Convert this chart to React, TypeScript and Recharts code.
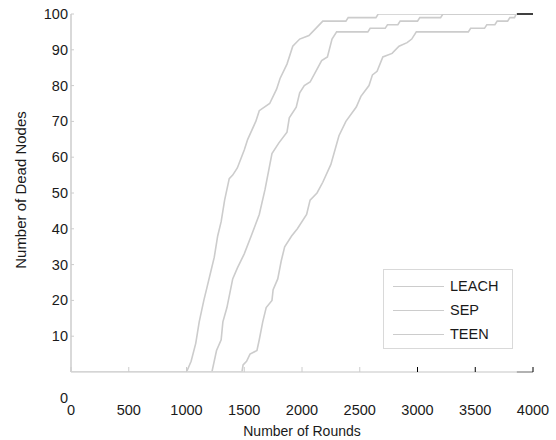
import React from 'react';
import { LineChart, Line, XAxis, YAxis, Legend, ReferenceLine } from 'recharts';

const xTicks = [0, 500, 1000, 1500, 2000, 2500, 3000, 3500, 4000];
const yTicks = [0, 10, 20, 30, 40, 50, 60, 70, 80, 90, 100];

// rounds at which the dead-node count was read, and the count there
const leachRounds = [0, 1000, 1040, 1080, 1110, 1150, 1180, 1210, 1240, 1270, 1300, 1330, 1370, 1400, 1440, 1500, 1530, 1600, 1630, 1720, 1780, 1810, 1870, 1920, 1980, 2060, 2120, 2180, 2380, 2400, 2640, 2660, 3860];
const leachDead = [0, 0, 3, 8, 14, 20, 24, 28, 32, 38, 42, 48, 54, 55, 57, 62, 65, 70, 73, 75, 79, 82, 86, 91, 93, 94, 96, 98, 98, 99, 99, 100, 100];

const sepRounds = [0, 1220, 1260, 1300, 1315, 1350, 1400, 1440, 1500, 1560, 1630, 1680, 1740, 1800, 1870, 1890, 1950, 1980, 2020, 2070, 2120, 2170, 2220, 2260, 2300, 2570, 2590, 2720, 2740, 2830, 2850, 3000, 3020, 3200, 3220, 3860];
const sepDead = [0, 0, 6, 9, 14, 18, 26, 29, 33, 38, 44, 51, 61, 64, 67, 71, 74, 78, 80, 81, 84, 87, 88, 93, 95, 95, 96, 96, 97, 97, 98, 98, 99, 99, 100, 100];

const teenRounds = [0, 1480, 1490, 1520, 1550, 1610, 1630, 1660, 1690, 1740, 1750, 1790, 1820, 1850, 1910, 1960, 2040, 2070, 2130, 2180, 2250, 2320, 2380, 2470, 2510, 2580, 2610, 2650, 2700, 2780, 2840, 2910, 2950, 2990, 3440, 3460, 3580, 3600, 3670, 3690, 3780, 3800, 3840, 3855, 3860];
const teenDead = [0, 0, 2, 3, 5, 6, 9, 14, 18, 20, 23, 26, 31, 35, 38, 40, 44, 48, 50, 53, 58, 66, 70, 74, 77, 80, 83, 84, 88, 89, 91, 92, 93, 95, 95, 96, 96, 97, 97, 98, 98, 99, 99, 100, 100];

const seriesNames = ['LEACH', 'SEP', 'TEEN'];
const frameEnd = 3860;

const toPoints = (rounds: number[], dead: number[]) =>
  rounds.map((r, i) => ({ round: r, dead: dead[i] }));

const series = [
  { name: seriesNames[0], data: toPoints(leachRounds, leachDead) },
  { name: seriesNames[1], data: toPoints(sepRounds, sepDead) },
  { name: seriesNames[2], data: toPoints(teenRounds, teenDead) },
];

const FONT = '"Liberation Sans", Arial, sans-serif';
const LINE_COLOR = '#cccccc';
const FRAME_GRAY = '#d9d9d9';

const BottomTick = (props: any) => {
  const { x, y, payload } = props;
  const dark = payload.value >= 3000;
  return (
    <g>
      <line x1={x} x2={x} y1={y} y2={y - 5} stroke={dark ? '#000' : '#cccccc'} />
      <text x={x} y={y + 43} textAnchor="middle" fontSize={14.5} fontFamily={FONT} fill="#1a1a1a">
        {payload.value}
      </text>
    </g>
  );
};

const TopTick = (props: any) => {
  const { x, y } = props;
  return <line x1={x} x2={x} y1={y} y2={y + 4} stroke="#222" />;
};

const LeftTick = (props: any) => {
  const { x, y, payload } = props;
  const zero = payload.value === 0;
  return (
    <g>
      {!zero && <line x1={x} x2={x + 3} y1={y} y2={y} stroke="#cccccc" />}
      <text
        x={x - 3}
        y={y + (zero ? 31 : 5)}
        textAnchor="end"
        fontSize={14.5}
        fontFamily={FONT}
        fill="#1a1a1a"
      >
        {payload.value}
      </text>
    </g>
  );
};

const RightTick = (props: any) => {
  const { x, y, payload } = props;
  if (payload.value === 0 || payload.value === 100) return <g />;
  return <line x1={x} x2={x - 5} y1={y} y2={y} stroke="#000" />;
};

const LegendBox = (props: any) => {
  const { payload } = props;
  return (
    <div
      style={{
        border: `1px solid ${FRAME_GRAY}`,
        background: '#fff',
        width: 128,
        padding: '4px 0 2px 0',
        fontFamily: FONT,
        fontSize: 14.5,
        color: '#1a1a1a',
      }}
    >
      {(payload || []).map((p: any) => (
        <div key={p.value} style={{ display: 'flex', alignItems: 'center', height: 24 }}>
          <span
            style={{
              display: 'inline-block',
              width: 51,
              marginLeft: 9,
              marginRight: 6,
              borderTop: `1.5px solid ${p.color}`,
            }}
          />
          <span>{p.value}</span>
        </div>
      ))}
    </div>
  );
};

export default function App() {
  return (
    <div style={{ position: 'absolute', left: 0, top: 0, background: '#fff' }}>
      <LineChart width={556} height={440} margin={{ top: 14, right: 23, left: 0, bottom: 0 }}>
        <XAxis
          xAxisId="b"
          dataKey="round"
          type="number"
          domain={[0, 4000]}
          ticks={xTicks}
          allowDataOverflow
          height={68}
          tickSize={0}
          tickMargin={0}
          tickLine={false}
          axisLine={{ stroke: FRAME_GRAY, strokeWidth: 1.5 }}
          tick={<BottomTick />}
          label={{
            value: 'Number of Rounds',
            content: (p: any) => {
              const vb = p.viewBox;
              return (
                <text
                  x={vb.x + vb.width / 2}
                  y={vb.y + 64}
                  textAnchor="middle"
                  fontSize={14}
                  fontFamily={FONT}
                  fill="#1a1a1a"
                >
                  Number of Rounds
                </text>
              );
            },
          }}
        />
        <XAxis
          xAxisId="t"
          orientation="top"
          type="number"
          domain={[0, 4000]}
          ticks={xTicks}
          allowDataOverflow
          height={0}
          tickSize={0}
          tickMargin={0}
          tickLine={false}
          axisLine={{ stroke: FRAME_GRAY, strokeWidth: 1.5 }}
          tick={<TopTick />}
        />
        <YAxis
          yAxisId="l"
          type="number"
          domain={[0, 100]}
          ticks={yTicks}
          allowDataOverflow
          width={71}
          tickSize={0}
          tickMargin={0}
          tickLine={false}
          axisLine={{ stroke: FRAME_GRAY, strokeWidth: 2 }}
          tick={<LeftTick />}
          label={{
            value: 'Number of Dead Nodes',
            content: (p: any) => {
              const vb = p.viewBox;
              const cx = vb.x + 20;
              const cy = vb.y + vb.height / 2 - 3;
              return (
                <text
                  x={cx}
                  y={cy}
                  transform={`rotate(-90 ${cx} ${cy})`}
                  textAnchor="middle"
                  dominantBaseline="central"
                  fontSize={15}
                  fontFamily={FONT}
                  fill="#1a1a1a"
                >
                  Number of Dead Nodes
                </text>
              );
            },
          }}
        />
        <YAxis
          yAxisId="r"
          orientation="right"
          type="number"
          domain={[0, 100]}
          ticks={yTicks}
          allowDataOverflow
          width={0}
          tickSize={0}
          tickMargin={0}
          tickLine={false}
          axisLine={{ stroke: '#000', strokeWidth: 1.5 }}
          tick={<RightTick />}
        />
        <ReferenceLine
          xAxisId="b"
          yAxisId="l"
          segment={[{ x: frameEnd, y: 0 }, { x: 4000, y: 0 }]}
          stroke="#000"
          strokeWidth={1.5}
        />
        <ReferenceLine
          xAxisId="b"
          yAxisId="l"
          segment={[{ x: frameEnd, y: 100 }, { x: 4000, y: 100 }]}
          stroke="#000"
          strokeWidth={1.5}
        />
        {series.map((s) => (
          <Line
            key={s.name}
            xAxisId="b"
            yAxisId="l"
            data={s.data}
            dataKey="dead"
            name={s.name}
            type="linear"
            stroke={LINE_COLOR}
            strokeWidth={1.6}
            dot={false}
            isAnimationActive={false}
          />
        ))}
        <Legend
          layout="vertical"
          align="center"
          verticalAlign="middle"
          content={<LegendBox />}
          wrapperStyle={{ left: 383, top: 269, width: 130, height: 'auto' }}
        />
      </LineChart>
    </div>
  );
}
